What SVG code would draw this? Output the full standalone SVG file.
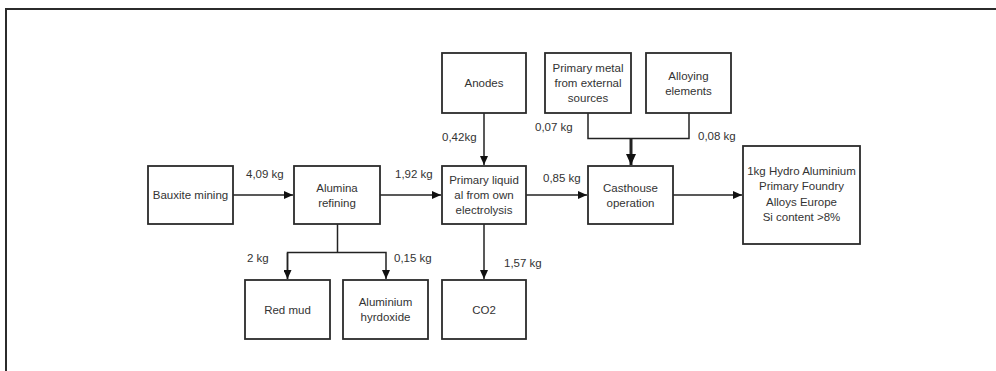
<svg xmlns="http://www.w3.org/2000/svg" width="996" height="371" viewBox="0 0 996 371">
<defs>
<style>
.box{fill:#fff;stroke:#2b2b2b;stroke-width:1.8}
.t{font-family:"Liberation Sans",Arial,sans-serif;font-size:11.5px;fill:#333;text-anchor:middle}
.l{font-family:"Liberation Sans",Arial,sans-serif;font-size:11.5px;fill:#333}
.c{fill:none;stroke:#222;stroke-width:1.5}
.ct{fill:none;stroke:#222;stroke-width:3}
</style>
<marker id="ah" viewBox="0 0 9 8" refX="9" refY="4" markerWidth="9" markerHeight="8" markerUnits="userSpaceOnUse" orient="auto">
<path d="M0,0 L9,4 L0,8 z" fill="#111"/>
</marker>
<marker id="ahb" viewBox="0 0 11 10" refX="11" refY="5" markerWidth="11" markerHeight="10" markerUnits="userSpaceOnUse" orient="auto">
<path d="M0,0 L11,5 L0,10 z" fill="#111"/>
</marker>
</defs>
<rect width="996" height="371" fill="#fff"/>
<path d="M6,371 V9 H996" fill="none" stroke="#2b2b2b" stroke-width="2"/>

<g id="connectors">
<path class="c" d="M233,195 H293" marker-end="url(#ah)"/>
<path class="c" d="M380,195 H441" marker-end="url(#ah)"/>
<path class="c" d="M526,195 H587" marker-end="url(#ah)"/>
<path class="c" d="M673,195 H742" marker-end="url(#ah)"/>
<path class="c" d="M484,113 V165" marker-end="url(#ah)"/>
<path class="c" d="M484,224 V279" marker-end="url(#ah)"/>
<path class="c" d="M337.5,224 V252.5"/>
<path class="c" d="M287.5,279 V252.5 H386 V279" marker-end="url(#ah)"/>
<path class="c" d="M287.5,253 V279" marker-end="url(#ah)"/>
<path class="c" d="M588,113 V138.5 H689 V113"/>
<path class="ct" d="M631,138.5 V165" marker-end="url(#ahb)"/>
<text class="l" x="246" y="178">4,09 kg</text>
<text class="l" x="395" y="178">1,92 kg</text>
<text class="l" x="442" y="141">0,42kg</text>
<text class="l" x="535" y="131">0,07 kg</text>
<text class="l" x="698" y="140">0,08 kg</text>
<text class="l" x="543" y="182">0,85 kg</text>
<text class="l" x="247" y="262">2 kg</text>
<text class="l" x="394" y="262">0,15 kg</text>
<text class="l" x="504" y="267">1,57 kg</text>
</g>

<g id="anodes"><rect class="box" x="442" y="53" width="84" height="60"/><text class="t" x="484" y="87">Anodes</text></g>
<g id="primary-metal"><rect class="box" x="545" y="53" width="86" height="60"/><text class="t" x="588" y="72">Primary metal</text><text class="t" x="588" y="87">from external</text><text class="t" x="588" y="102">sources</text></g>
<g id="alloying"><rect class="box" x="646" y="53" width="85" height="60"/><text class="t" x="688.5" y="79.5">Alloying</text><text class="t" x="688.5" y="94.5">elements</text></g>
<g id="bauxite"><rect class="box" x="148" y="166" width="85" height="58"/><text class="t" x="190.5" y="199">Bauxite mining</text></g>
<g id="alumina"><rect class="box" x="294" y="166" width="86" height="58"/><text class="t" x="337" y="191.5">Alumina</text><text class="t" x="337" y="207">refining</text></g>
<g id="primary-liquid"><rect class="box" x="442" y="166" width="84" height="58"/><text class="t" x="484" y="184">Primary liquid</text><text class="t" x="484" y="199">al from own</text><text class="t" x="484" y="214">electrolysis</text></g>
<g id="casthouse"><rect class="box" x="588" y="166" width="85" height="58"/><text class="t" x="630.5" y="191.5">Casthouse</text><text class="t" x="630.5" y="206.5">operation</text></g>
<g id="product"><rect class="box" x="743" y="146" width="117" height="98"/><text class="t" x="801.5" y="175">1kg Hydro Aluminium</text><text class="t" x="801.5" y="190.3">Primary Foundry</text><text class="t" x="801.5" y="205.6">Alloys Europe</text><text class="t" x="801.5" y="221">Si content &gt;8%</text></g>
<g id="red-mud"><rect class="box" x="245" y="280" width="85" height="59"/><text class="t" x="287.5" y="313.5">Red mud</text></g>
<g id="al-hydroxide"><rect class="box" x="343" y="280" width="85" height="59"/><text class="t" x="385.5" y="306">Aluminium</text><text class="t" x="385.5" y="321">hyrdoxide</text></g>
<g id="co2"><rect class="box" x="442" y="280" width="84" height="59"/><text class="t" x="484" y="313.5">CO2</text></g>
</svg>
